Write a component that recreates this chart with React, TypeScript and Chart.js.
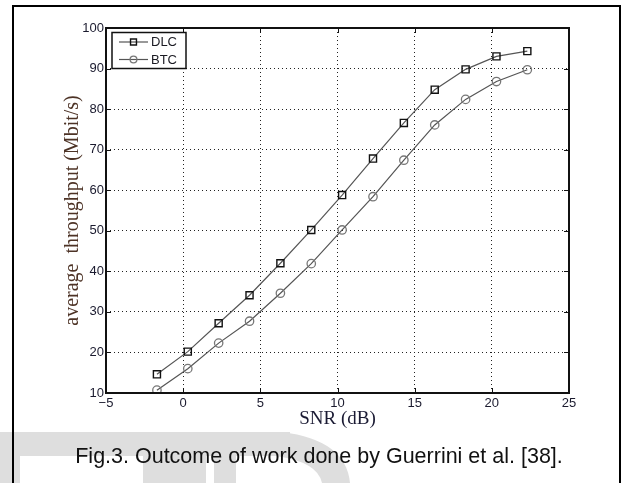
import React, { useEffect, useRef } from "react";
import { Chart, registerables } from "chart.js";

Chart.register(...registerables);

// ---- data ----
const snrValues = [-1.7, 0.3, 2.3, 4.3, 6.3, 8.3, 10.3, 12.3, 14.3, 16.3, 18.3, 20.3, 22.3];
const dlcValues = [14.6, 20.2, 27.2, 34.1, 42.0, 50.2, 58.8, 67.8, 76.6, 84.8, 89.8, 93.0, 94.3];
const btcValues = [10.7, 16.0, 22.3, 27.7, 34.6, 41.9, 50.2, 58.4, 67.4, 76.1, 82.4, 86.8, 89.7];
const seriesNames = ["DLC", "BTC"];
const xTickValues = [-5, 0, 5, 10, 15, 20, 25];
const yTickValues = [10, 20, 30, 40, 50, 60, 70, 80, 90, 100];
const xTitle = "SNR (dB)";
const yTitle = "average  throughput (Mbit/s)";
const caption = "Fig.3. Outcome of work done by Guerrini et al. [38].";

const W = 625;
const H = 483;

function drawMarker(ctx: CanvasRenderingContext2D, style: string, x: number, y: number, r: number, color: string, lw: number) {
  ctx.save();
  ctx.strokeStyle = color;
  ctx.lineWidth = lw;
  ctx.beginPath();
  if (style === "rect") {
    const s = r / Math.SQRT2;
    ctx.rect(x - s, y - s, 2 * s, 2 * s);
  } else {
    ctx.arc(x, y, r, 0, Math.PI * 2);
  }
  ctx.stroke();
  ctx.restore();
}

const decorPlugin = {
  id: "decor",
  beforeDraw(chart: any) {
    const ctx: CanvasRenderingContext2D = chart.ctx;
    ctx.save();
    ctx.fillStyle = "#ffffff";
    ctx.fillRect(0, 0, chart.width, chart.height);
    // faint watermark shapes at the bottom
    ctx.fillStyle = "#dedede";
    ctx.fillRect(0, 432, 290, 24);
    ctx.fillRect(0, 456, 20, 27);
    ctx.fillRect(143, 456, 63, 27);
    ctx.beginPath();
    ctx.moveTo(214, 432);
    ctx.lineTo(282, 432);
    ctx.quadraticCurveTo(346, 440, 350, 483);
    ctx.lineTo(214, 483);
    ctx.closePath();
    ctx.moveTo(236, 456);
    ctx.lineTo(276, 456);
    ctx.quadraticCurveTo(318, 462, 322, 483);
    ctx.lineTo(236, 483);
    ctx.closePath();
    ctx.fill("evenodd");
    ctx.restore();
  },
  afterDraw(chart: any) {
    const ctx: CanvasRenderingContext2D = chart.ctx;
    const { left, right, top, bottom } = chart.chartArea;
    const xs = chart.scales.x;
    const ys = chart.scales.y;
    ctx.save();
    // inward ticks
    ctx.strokeStyle = "#111";
    ctx.lineWidth = 1;
    const tl = 5;
    ctx.beginPath();
    xTickValues.forEach((v) => {
      const px = Math.round(xs.getPixelForValue(v)) + 0.5;
      ctx.moveTo(px, bottom);
      ctx.lineTo(px, bottom - tl);
      ctx.moveTo(px, top);
      ctx.lineTo(px, top + tl);
    });
    yTickValues.forEach((v) => {
      const py = Math.round(ys.getPixelForValue(v)) + 0.5;
      ctx.moveTo(left, py);
      ctx.lineTo(left + tl, py);
      ctx.moveTo(right, py);
      ctx.lineTo(right - tl, py);
    });
    ctx.stroke();
    // plot frame
    ctx.strokeStyle = "#111";
    ctx.lineWidth = 2;
    ctx.strokeRect(left, top, right - left, bottom - top);

    // legend box
    const lx = left + 6;
    const ly = top + 4.5;
    const lw = 74;
    const lh = 36;
    ctx.fillStyle = "#ffffff";
    ctx.fillRect(lx, ly, lw, lh);
    ctx.strokeStyle = "#111";
    ctx.lineWidth = 1.5;
    ctx.strokeRect(lx, ly, lw, lh);
    ctx.font = "13px 'Liberation Sans', Arial, sans-serif";
    ctx.textBaseline = "middle";
    ctx.textAlign = "left";
    chart.data.datasets.forEach((ds: any, i: number) => {
      const ry = ly + 9.5 + i * 17.5;
      ctx.strokeStyle = ds.borderColor;
      ctx.lineWidth = 1.2;
      ctx.beginPath();
      ctx.moveTo(lx + 7, ry);
      ctx.lineTo(lx + 36, ry);
      ctx.stroke();
      drawMarker(ctx, ds.pointStyle, lx + 21.5, ry, ds.pointRadius - 0.8, ds.pointBorderColor, ds.pointBorderWidth);
      ctx.fillStyle = "#1a1a22";
      ctx.fillText(ds.label, lx + 39, ry + 0.5);
    });

    // outer figure border
    ctx.strokeStyle = "#000";
    ctx.lineWidth = 2;
    ctx.beginPath();
    ctx.moveTo(13, H);
    ctx.lineTo(13, 6);
    ctx.lineTo(620, 6);
    ctx.lineTo(620, H);
    ctx.stroke();

    // caption
    ctx.fillStyle = "#111";
    ctx.font = "21.5px 'Liberation Sans', Arial, sans-serif";
    ctx.textAlign = "center";
    ctx.textBaseline = "alphabetic";
    ctx.fillText(caption, 319, 463);
    ctx.restore();
  },
};

export default function App() {
  const canvasRef = useRef<HTMLCanvasElement | null>(null);

  useEffect(() => {
    const canvas = canvasRef.current;
    if (!canvas) return;
    const chart = new Chart(canvas, {
      type: "line",
      data: {
        datasets: [
          {
            label: seriesNames[0],
            data: snrValues.map((x, i) => ({ x, y: dlcValues[i] })),
            borderColor: "#555555",
            borderWidth: 1.2,
            pointStyle: "rect",
            pointRadius: 5,
            pointBorderColor: "#111111",
            pointBorderWidth: 1.4,
            pointBackgroundColor: "rgba(0,0,0,0)",
            tension: 0,
            fill: false,
          },
          {
            label: seriesNames[1],
            data: snrValues.map((x, i) => ({ x, y: btcValues[i] })),
            borderColor: "#555555",
            borderWidth: 1.2,
            pointStyle: "circle",
            pointRadius: 4.2,
            pointBorderColor: "#777777",
            pointBorderWidth: 1.3,
            pointBackgroundColor: "rgba(0,0,0,0)",
            tension: 0,
            fill: false,
          },
        ],
      },
      options: {
        animation: false,
        responsive: false,
        devicePixelRatio: 1,
        events: [],
        layout: { padding: { left: 0, top: 28, right: 56, bottom: 45 } },
        plugins: {
          legend: { display: false },
          tooltip: { enabled: false },
          title: { display: false },
        },
        scales: {
          x: {
            type: "linear",
            min: -5,
            max: 25,
            afterFit: (s: any) => {
              s.height = 45;
            },
            afterBuildTicks: (s: any) => {
              s.ticks = xTickValues.map((v) => ({ value: v }));
            },
            grid: {
              display: true,
              drawTicks: false,
              color: "#222",
              lineWidth: 1,
            },
            border: { display: false, dash: [1, 3] },
            ticks: {
              padding: 3,
              maxRotation: 0,
              autoSkip: false,
              color: "#1a1a2e",
              font: { family: "'Liberation Sans', Arial, sans-serif", size: 13 },
              callback: (v: any) => String(v).replace("-", "\u2212"),
            },
            title: {
              display: true,
              text: xTitle,
              color: "#1a1a33",
              font: { family: "'Liberation Serif', 'Times New Roman', serif", size: 19 },
              padding: { top: 0, bottom: 8 },
            },
          },
          y: {
            type: "linear",
            min: 10,
            max: 100,
            afterFit: (s: any) => {
              s.width = 106;
            },
            afterBuildTicks: (s: any) => {
              s.ticks = yTickValues.map((v) => ({ value: v }));
            },
            grid: {
              display: true,
              drawTicks: false,
              color: "#222",
              lineWidth: 1,
            },
            border: { display: false, dash: [1, 3] },
            ticks: {
              padding: 2,
              autoSkip: false,
              color: "#1a1a2e",
              font: { family: "'Liberation Sans', Arial, sans-serif", size: 13 },
            },
            title: {
              display: true,
              text: yTitle,
              color: "#4d3326",
              font: { family: "'Liberation Serif', 'Times New Roman', serif", size: 20 },
              padding: { top: 61, bottom: 0 },
            },
          },
        },
      },
      plugins: [decorPlugin],
    });
    return () => chart.destroy();
  }, []);

  return (
    <div style={{ position: "absolute", left: 0, top: 0, width: W, height: H, background: "#fff" }}>
      <canvas ref={canvasRef} width={W} height={H} style={{ display: "block", width: W, height: H }} />
    </div>
  );
}
